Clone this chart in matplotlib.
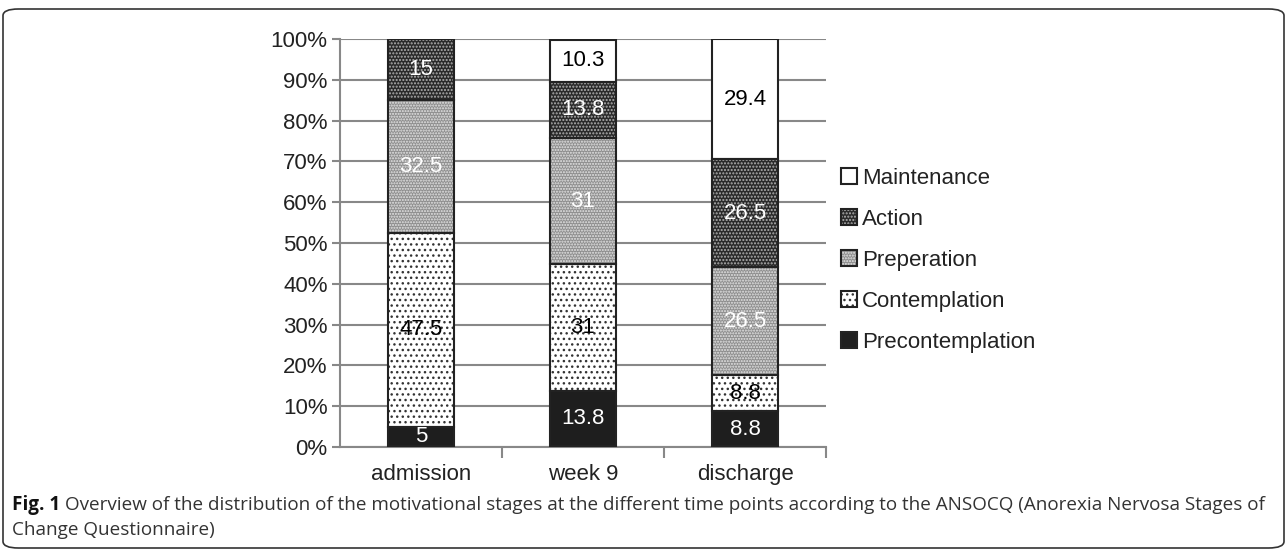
import matplotlib
matplotlib.use('Agg')
import matplotlib.pyplot as plt
import numpy as np
from matplotlib.patches import FancyBboxPatch
from matplotlib.legend_handler import HandlerTuple

plt.rcParams['font.family'] = ['Liberation Sans', 'DejaVu Sans']

timepoints = ['admission', 'week 9', 'discharge']
stages = ['Precontemplation', 'Contemplation', 'Preperation', 'Action', 'Maintenance']
precontemplation = [5, 13.8, 8.8]
contemplation = [47.5, 31, 8.8]
preparation = [32.5, 31, 26.5]
action = [15, 13.8, 26.5]
maintenance = [0, 10.3, 29.4]

caption_1 = ('Overview of the distribution of the motivational stages at the different time points '
             'according to the ANSOCQ (Anorexia Nervosa Stages of')
caption_2 = 'Change Questionnaire)'

series = [precontemplation, contemplation, preparation, action, maintenance]
faces = ['#1e1e1e', '#ffffff', '#8e8e8e', '#2a2a2a', '#ffffff']
hatches = [None, '...', '......', '.....', None]
hatch_cols = [None, '#333333', '#e6e6e6', '#b0b0b0', None]
text_cols = ['white', 'black', 'white', 'white', 'black']

plt.rcParams['hatch.linewidth'] = 1.0
fig = plt.figure(figsize=(12.87, 5.51), dpi=100)
ax = fig.add_axes([0.2642, 0.1887, 0.6418 - 0.2642, 0.929 - 0.1887])

x = np.arange(len(timepoints))
width = 0.41
bottom = np.zeros(len(timepoints))
handles = []
for vals, fc, h, hc, tc in zip(series, faces, hatches, hatch_cols, text_cols):
    vals = np.array(vals, dtype=float)
    parts = [ax.bar(x, vals, width, bottom=bottom, color=fc, edgecolor='none', zorder=2)]
    if h:
        parts.append(ax.bar(x, vals, width, bottom=bottom, color='none', edgecolor=hc,
                            hatch=h, linewidth=0, zorder=3))
    parts.append(ax.bar(x, vals, width, bottom=bottom, color='none', edgecolor='#222222',
                        linewidth=1.5, zorder=4))
    handles.append(tuple(parts))
    for xi, b, v in zip(x, bottom, vals):
        if v > 0:
            ax.text(xi, b + v / 2, f'{v:g}', ha='center', va='center',
                    fontsize=16, color=tc, zorder=5)
    bottom += vals

ax.set_xlim(-0.5, 2.5)
ax.set_ylim(0, 100)
ax.set_yticks(np.arange(0, 101, 10))
ax.set_yticklabels([f'{v}%' for v in range(0, 101, 10)], fontsize=16, color='#222222')
ax.set_xticks(x)
ax.set_xticklabels(timepoints, fontsize=16, color='#222222')
ax.set_xticks([0.5, 1.5, 2.5], minor=True)
ax.tick_params(axis='x', which='major', length=0, pad=12)
ax.tick_params(axis='x', which='minor', length=8, color='#888888', width=1.5)
ax.tick_params(axis='y', length=6, color='#888888', width=1.5, pad=3)
ax.grid(axis='y', color='#888888', linewidth=1.5, zorder=0)
ax.set_axisbelow(True)
for s in ['top', 'right']:
    ax.spines[s].set_visible(False)
for s in ['left', 'bottom']:
    ax.spines[s].set_color('#888888')
    ax.spines[s].set_linewidth(1.5)

leg = fig.legend(handles[::-1], stages[::-1], loc='upper left',
                 bbox_to_anchor=(841 / 1287, 1 - 168 / 551), frameon=False,
                 fontsize=16, handlelength=0.7, handleheight=0.7,
                 handletextpad=0.25, labelspacing=0.9, borderaxespad=0, borderpad=0,
                 handler_map={tuple: HandlerTuple(ndivide=1, pad=0)})
for t in leg.get_texts():
    t.set_color('#222222')

# caption, scaled so the first line spans the figure width like the original
cap_font = ['Open Sans', 'DejaVu Sans']
fig_lbl = fig.text(12 / 1287, 1 - 505 / 551, 'Fig. 1 ', fontsize=14, fontweight='bold',
                   color='#111111', va='center', family=cap_font)
cap1 = fig.text(0, 1 - 505 / 551, caption_1, fontsize=14, color='#333333',
                va='center', family=cap_font)
cap2 = fig.text(12 / 1287, 1 - 530 / 551, caption_2, fontsize=14, color='#333333',
                va='center', family=cap_font)
renderer = fig.canvas.get_renderer()
w_fig = fig_lbl.get_window_extent(renderer).width
w_cap = cap1.get_window_extent(renderer).width
scale = (1275 - 12) / (w_fig + w_cap)
for t in (fig_lbl, cap1, cap2):
    t.set_fontsize(14 * scale)
w_fig = fig_lbl.get_window_extent(renderer).width
cap1.set_x((12 + w_fig) / 1287)

border = FancyBboxPatch((3 / 1287, 3 / 551), 1 - 6 / 1287, 1 - 12 / 551,
                        boxstyle='round,pad=0,rounding_size=0.012',
                        transform=fig.transFigure, fill=False,
                        edgecolor='#333333', linewidth=1.2)
fig.patches.append(border)

fig.savefig('out.png', dpi=100)
